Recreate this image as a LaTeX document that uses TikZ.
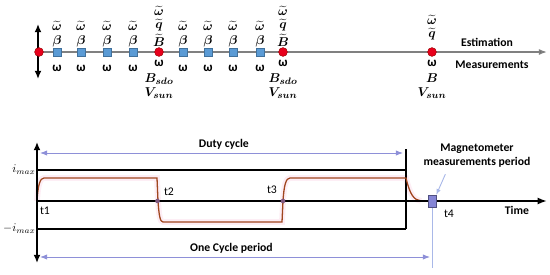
\documentclass[tikz,border=0pt]{standalone}
\usepackage{amsmath}
\usepackage{amssymb}
\usepackage{fontspec}
\setmainfont{Carlito}
\usepackage{tikz}
\usetikzlibrary{arrows.meta,positioning}

\definecolor{dotred}{HTML}{E8001C}
\definecolor{sqblue}{HTML}{5B9BD5}
\definecolor{sqedge}{HTML}{41719C}
\definecolor{spanblue}{HTML}{8E90D8}
\definecolor{wavebrown}{HTML}{A0461E}
\definecolor{glowpink}{HTML}{FDEEF5}
\definecolor{magblue}{HTML}{8585D6}
\definecolor{markblue}{HTML}{A9B8E8}

\newcommand{\tw}{$\widetilde{\boldsymbol{\omega}}$}
\newcommand{\tq}{$\widetilde{\boldsymbol{q}}$}
\newcommand{\tB}{$\widetilde{\boldsymbol{B}}$}

\begin{document}
\begin{tikzpicture}[
      x=0.03cm, y=-0.03cm,
      font=\fontsize{10}{12.3}\selectfont,
      % Reusable styles
      estdot/.style={
        circle,
        fill=dotred,
        draw=red!60!black,
        inner sep=0pt,
        minimum size=7.5pt
      },
      sample/.style={
        rectangle,
        fill=sqblue,
        draw=sqedge,
        inner sep=0pt,
        minimum size=6.5pt
      },
      lbl/.style={inner sep=0pt, font=\fontsize{11}{12}\selectfont},
      meas/.style={inner sep=0pt, font=\fontsize{11}{12}\selectfont\bfseries},
      tag/.style={font=\fontsize{10}{12}\selectfont\bfseries},
      timeline/.style={draw=gray, line width=1.3pt, -{Latex[length=7pt,fill=black!80]}},
      bigarrow/.style={line width=1.4pt, {Latex[length=7pt,width=6pt]}-{Latex[length=7pt,width=6pt]}},
      span/.style={draw=spanblue, line width=0.8pt, {Latex[length=6pt]}-{Latex[length=6pt]}},
      wave/.style={draw=wavebrown, line width=1.1pt},
      glow/.style={draw=glowpink, line width=5pt},
      magsq/.style={fill=magblue, draw=magblue!60!black, inner sep=0pt, minimum width=6.8pt, minimum height=10pt}
    ]
    \useasboundingbox (0,0) rectangle (550,274);

    % Estimation / measurement timeline
    \coordinate (estend) at (547,52);
    \coordinate (vup) at (38,24);
    \coordinate (vdown) at (38,79);
    \draw[bigarrow] (vup) -- (vdown);
    \draw[timeline] (39,52) -- (estend);

    \node[estdot] (e1) at (39,52) {};
    \node[estdot] (e2) at (159,52) {};
    \node[estdot] (e3) at (283,52) {};
    \node[estdot] (e4) at (432,52) {};
    \foreach \x [count=\i] in {57,81,107,133,183,208,233,260} {
      \node[sample] (s\i) at (\x,52) {};
      \node[lbl] (b\i) at (\x,41) {$\boldsymbol{\beta}$};
      \node[lbl] (w\i) at (\x,26) {\tw};
      \node[meas] (m\i) at (\x,68) {ω};
    }

    % red estimation instants
    \foreach \n/\x in {2/159,3/283} {
      \node[lbl] (ew\n) at (\x,11) {\tw};
      \node[lbl] (eq\n) at (\x,25) {\tq};
      \node[lbl] (eb\n) at (\x,40) {\tB};
      \node[meas] (mw\n) at (\x,63) {ω};
      \node[meas] (mb\n) at (\x,79) {$\boldsymbol{B_{sdo}}$};
      \node[meas] (mv\n) at (\x,93) {$\boldsymbol{V_{sun}}$};
    }
    \node[lbl] (ew4) at (432,20) {\tw};
    \node[lbl] (eq4) at (432,34) {\tq};
    \node[meas] (mw4) at (432,63) {ω};
    \node[meas] (mb4) at (432,78) {$\boldsymbol{B}$};
    \node[meas] (mv4) at (432,93) {$\boldsymbol{V_{sun}}$};

    \node[tag] (est) at (487,42) {Estimation};
    \node[tag] (mes) at (492,65) {Measurements};

    % Current profile
    \coordinate (t0) at (37,201);
    \coordinate (tend) at (547,201);
    \coordinate (iup) at (37,142);
    \coordinate (idown) at (37,263);
    \coordinate (imax) at (37,170);
    \coordinate (nimax) at (37,229);

    \draw[glow] (37,201) .. controls (38,185) and (40,178) .. (44,178) -- (157,178) -- (158,201)
      .. controls (159,215) and (160,222) .. (163,222) -- (282,222) -- (283,201)
      .. controls (284,185) and (286,178) .. (290,178) -- (406,178)
      .. controls (410,195) and (414,200) .. (421,201);

    \draw[line width=0.9pt] (imax) -- (406,170);
    \draw[line width=0.9pt] (nimax) -- (406,229);
    \draw[line width=0.9pt] (406,149) -- (406,229);

    \draw[markblue, line width=0.8pt] (432,195) -- (432,268);

    \draw[wave] (37,201) .. controls (38,185) and (40,178) .. (44,178) -- (157,178) -- (158,201)
      .. controls (159,215) and (160,222) .. (163,222) -- (282,222) -- (283,201)
      .. controls (284,185) and (286,178) .. (290,178) -- (406,178)
      .. controls (410,195) and (414,200) .. (421,201);

    \draw[line width=2pt, -{Latex[length=8pt]}] (t0) -- (tend);
    \draw[bigarrow] (iup) -- (idown);

    \node[circle, fill=gray!70!violet, inner sep=0pt, minimum size=4pt] (c2) at (157.5,201) {};
    \node[circle, fill=gray!70!violet, inner sep=0pt, minimum size=4pt] (c3) at (283,201) {};
    \node[magsq] (mag) at (432,201) {};

    \node[anchor=east, inner sep=1pt] (imaxl) at (imax) {$i_{max}$};
    \node[anchor=east, inner sep=1pt] (nimaxl) at (nimax) {$-i_{max}$};

    \node (t1) at (45,211) {t1};
    \node (t2) at (169,192) {t2};
    \node (t3) at (272,190) {t3};
    \node (t4) at (449,214) {t4};
    \node[tag] (time) at (517,210) {Time};

    \coordinate (dl) at (40,153);
    \coordinate (dr) at (403,153);
    \coordinate (cl) at (40,257);
    \coordinate (cr) at (430,257);
    \draw[span] (dl) -- node[tag, above=-1pt, xshift=2pt]{Duty cycle} (dr);
    \draw[span] (cl) -- node[tag, above=-1pt, xshift=-3pt]{One Cycle period} (cr);

    \node[tag, align=center] (maglbl) at (477,156) {Magnetometer\\measurements period};
    \draw[markblue, line width=0.8pt, -{Latex[length=5pt]}] (maglbl.south) ++(-27pt,-2pt) coordinate (mfrom) -- (mag.north east);
  \end{tikzpicture}
\end{document}
